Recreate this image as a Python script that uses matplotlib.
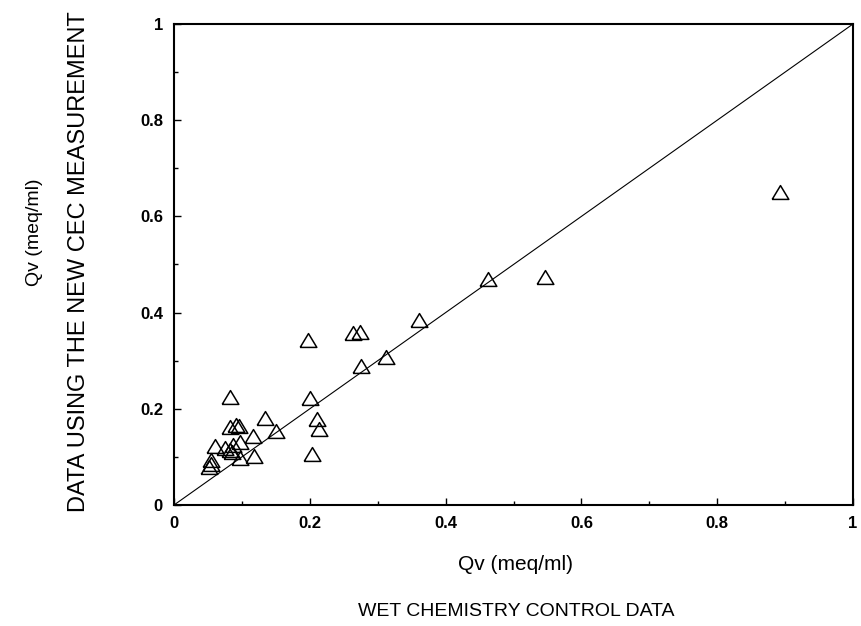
import numpy as np
import matplotlib.pyplot as plt

qv_wet = [0.892, 0.546, 0.462, 0.361, 0.312, 0.276, 0.263, 0.274, 0.197, 0.200,
          0.082, 0.134, 0.210, 0.213, 0.150, 0.117, 0.082, 0.092, 0.095, 0.203,
          0.118, 0.097, 0.060, 0.055, 0.052, 0.075, 0.082, 0.087, 0.097, 0.085,
          0.055]
qv_cec = [0.651, 0.475, 0.470, 0.385, 0.308, 0.288, 0.358, 0.360, 0.342, 0.222,
          0.225, 0.180, 0.179, 0.157, 0.154, 0.144, 0.163, 0.166, 0.164, 0.106,
          0.102, 0.097, 0.123, 0.094, 0.080, 0.118, 0.114, 0.125, 0.132, 0.110,
          0.085]
ticks = [0, 0.2, 0.4, 0.6, 0.8, 1]
tick_labels = ['0', '0.2', '0.4', '0.6', '0.8', '1']

plt.rcParams['font.family'] = ['Liberation Sans', 'DejaVu Sans']

fig = plt.figure(figsize=(8.62, 6.26), dpi=100)
ax = fig.add_axes([174/862, 121/626, 679/862, 481/626])

# 1:1 line
ax.plot([0, 1], [0, 1], color='black', linewidth=0.8)

tri = [(-1, -0.83), (1, -0.83), (0, 0.83), (-1, -0.83)]
ax.plot(qv_wet, qv_cec, linestyle='none', marker=tri, markersize=12,
        markerfacecolor='none', markeredgecolor='black', markeredgewidth=1.1)

ax.set_xlim(0, 1)
ax.set_ylim(0, 1)
ax.set_xticks(ticks)
ax.set_xticklabels(tick_labels, fontsize=12, fontweight='bold')
ax.set_yticks(ticks)
ax.set_yticklabels(tick_labels, fontsize=12, fontweight='bold')
ax.set_xticks(np.arange(0.1, 1.0, 0.2), minor=True)
ax.set_yticks(np.arange(0.1, 1.0, 0.2), minor=True)
ax.tick_params(which='major', direction='in', length=5, width=1, pad=8)
ax.tick_params(which='minor', direction='in', length=3, width=1)
for s in ax.spines.values():
    s.set_linewidth(1.5)

fig.text(516/862, 1 - 565/626, 'Qv (meq/ml)', fontsize=15, ha='center', va='center')
fig.text(516/862, 1 - 611/626, 'WET CHEMISTRY CONTROL DATA', fontsize=14,
         ha='center', va='center')
fig.text(35/862, 1 - 232/626, 'Qv (meq/ml)', fontsize=14, rotation=90,
         ha='center', va='center')
fig.text(79/862, 1 - 262/626, 'DATA USING THE NEW CEC MEASUREMENT', fontsize=17,
         rotation=90, ha='center', va='center')

plt.savefig('out.png', dpi=100)
